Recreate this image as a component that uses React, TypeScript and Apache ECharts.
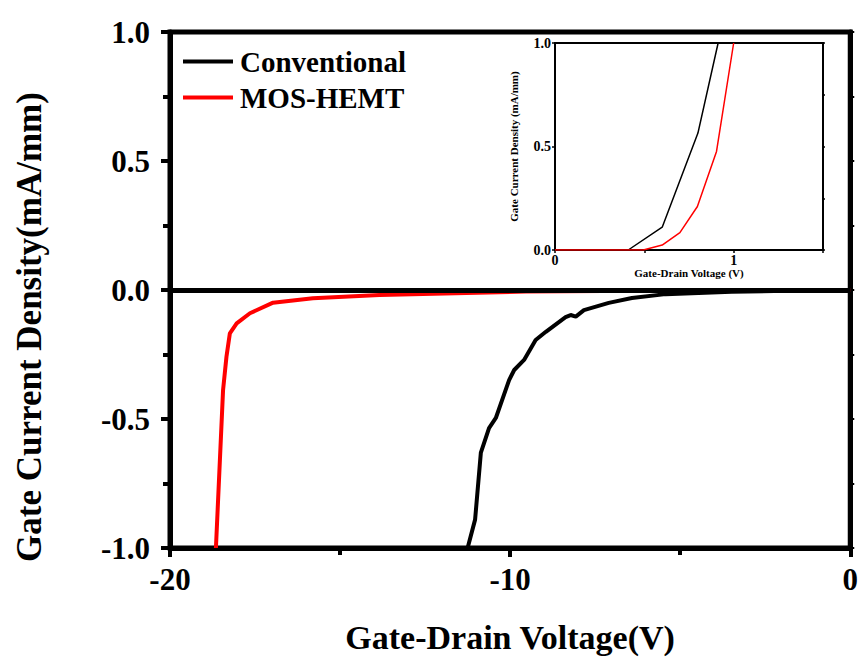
import React, { useEffect, useRef } from "react";
import * as echarts from "echarts";

const convX = [-11.25, -11.03, -10.86, -10.62, -10.42, -10.03, -9.88, -9.59, -9.25, -8.95, -8.37, -8.22, -8.07, -7.83, -7.1, -6.42, -5.43, -3.49, -1.5, 0];
const convY = [-1.0, -0.89, -0.63, -0.535, -0.496, -0.349, -0.31, -0.271, -0.194, -0.162, -0.105, -0.097, -0.103, -0.078, -0.05, -0.031, -0.016, -0.007, -0.002, 0];
const mosX = [-18.65, -18.44, -18.34, -18.24, -18.04, -17.65, -16.97, -15.8, -13.84, -9.53, -5, 0];
const mosY = [-1.0, -0.388, -0.259, -0.168, -0.129, -0.09, -0.049, -0.032, -0.019, -0.006, -0.002, 0];

const insetConvX = [0, 0.41, 0.6, 0.8, 0.913];
const insetConvY = [0, 0, 0.11, 0.565, 1.0];
const insetMosX = [0, 0.494, 0.6, 0.699, 0.797, 0.904, 1.0];
const insetMosY = [0, 0, 0.024, 0.084, 0.21, 0.476, 1.0];

const xTicks = [-20, -10, 0];
const yTicks = [-1.0, -0.5, 0.0, 0.5, 1.0];

const FONT = "Liberation Serif";

function zip(xs: number[], ys: number[]) {
  return xs.map((x, i) => [x, ys[i]]);
}

export default function App() {
  const ref = useRef<HTMLDivElement>(null);
  useEffect(() => {
    document.body.style.margin = "0";
    if (!ref.current) return;
    const chart = echarts.init(ref.current, null, { renderer: "svg" });
    const axisFont = { fontFamily: FONT, fontWeight: "bold" as const, color: "#000" };
    chart.setOption({
      animation: false,
      backgroundColor: "#fff",
      legend: {
        data: ["Conventional", "MOS-HEMT"],
        orient: "vertical",
        left: 178,
        top: 42,
        icon: "rect",
        itemWidth: 50,
        itemHeight: 4,
        itemGap: 7,
        textStyle: { ...axisFont, fontSize: 29, padding: [0, 0, 0, 2] },
      },
      grid: [
        { left: 170, right: 10, top: 32, bottom: 111, show: true, borderColor: "#000", borderWidth: 5 },
        { left: 555, top: 43, width: 268, height: 207, show: true, borderColor: "#000", borderWidth: 2, backgroundColor: "#fff", z: 5 },
      ],
      xAxis: [
        {
          gridIndex: 0,
          type: "value",
          min: -20,
          max: 0,
          interval: 10,
          name: "Gate-Drain Voltage(V)",
          nameLocation: "middle",
          nameGap: 72,
          nameTextStyle: { ...axisFont, fontSize: 34 },
          axisLine: { show: true, onZero: false, lineStyle: { color: "#000", width: 5 } },
          axisTick: { show: true, inside: false, length: 9, lineStyle: { color: "#000", width: 4 } },
          minorTick: { show: true, splitNumber: 2, length: 7, lineStyle: { color: "#000", width: 4 } },
          splitLine: { show: false },
          axisLabel: { ...axisFont, fontSize: 31, margin: 16, formatter: (v: number) => (xTicks.includes(v) ? String(v) : "") },
        },
        {
          gridIndex: 1,
          type: "value",
          min: 0,
          max: 1.5,
          interval: 0.5,
          name: "Gate-Drain Voltage (V)",
          nameLocation: "middle",
          nameGap: 16,
          nameTextStyle: { ...axisFont, fontSize: 11 },
          axisLine: { show: true, onZero: false, lineStyle: { color: "#000", width: 2 } },
          axisTick: { show: true, length: 3, lineStyle: { color: "#000", width: 1.5 } },
          splitLine: { show: false },
          axisLabel: { ...axisFont, fontSize: 14, margin: 3, formatter: (v: number) => (v === 0 || v === 1 ? String(v) : "") },
        },
      ],
      yAxis: [
        {
          gridIndex: 0,
          type: "value",
          min: -1,
          max: 1,
          interval: 0.5,
          name: "Gate Current Density(mA/mm)",
          nameLocation: "middle",
          nameGap: 123,
          nameTextStyle: { ...axisFont, fontSize: 35, padding: [0, 74, 0, 0] },
          axisLine: { show: true, onZero: false, lineStyle: { color: "#000", width: 5 } },
          axisTick: { show: true, inside: false, length: 9, lineStyle: { color: "#000", width: 4 } },
          minorTick: { show: true, splitNumber: 2, length: 7, lineStyle: { color: "#000", width: 4 } },
          splitLine: { show: false },
          axisLabel: { ...axisFont, fontSize: 31, margin: 20, formatter: (v: number) => (yTicks.includes(v) ? v.toFixed(1) : "") },
        },
        {
          gridIndex: 0,
          type: "value",
          position: "right",
          min: -1,
          max: 1,
          interval: 0.25,
          axisLine: { show: true, onZero: false, lineStyle: { color: "#000", width: 5 } },
          axisTick: { show: true, length: 4, lineStyle: { color: "#000", width: 2 } },
          splitLine: { show: false },
          axisLabel: { show: false },
        },
        {
          gridIndex: 1,
          type: "value",
          min: 0,
          max: 1,
          interval: 0.5,
          name: "Gate Current Density (mA/mm)",
          nameLocation: "middle",
          nameGap: 36,
          nameTextStyle: { ...axisFont, fontSize: 11 },
          axisLine: { show: true, onZero: false, lineStyle: { color: "#000", width: 2 } },
          axisTick: { show: true, length: 3, lineStyle: { color: "#000", width: 1.5 } },
          splitLine: { show: false },
          axisLabel: { ...axisFont, fontSize: 14, margin: 4, formatter: (v: number) => v.toFixed(1) },
        },
        {
          gridIndex: 1,
          type: "value",
          position: "right",
          min: 0,
          max: 1,
          interval: 0.25,
          axisLine: { show: true, onZero: false, lineStyle: { color: "#000", width: 2 } },
          axisTick: { show: true, length: 2, lineStyle: { color: "#000", width: 1.5 } },
          splitLine: { show: false },
          axisLabel: { show: false },
        },
      ],
      series: [
        {
          name: "Conventional",
          type: "line",
          xAxisIndex: 0,
          yAxisIndex: 0,
          data: zip(convX, convY),
          showSymbol: false,
          lineStyle: { color: "#000", width: 4 },
          itemStyle: { color: "#000" },
          z: 3,
          markLine: {
            silent: true,
            symbol: "none",
            label: { show: false },
            lineStyle: { color: "#000", width: 5, type: "solid" },
            data: [{ yAxis: 0 }],
          },
        },
        {
          name: "MOS-HEMT",
          type: "line",
          xAxisIndex: 0,
          yAxisIndex: 0,
          data: zip(mosX, mosY),
          showSymbol: false,
          lineStyle: { color: "#ff0000", width: 4 },
          itemStyle: { color: "#ff0000" },
          z: 2,
        },
        {
          name: "Conventional",
          type: "line",
          xAxisIndex: 1,
          yAxisIndex: 2,
          data: zip(insetConvX, insetConvY),
          showSymbol: false,
          lineStyle: { color: "#000", width: 1.5 },
          itemStyle: { color: "#000" },
          z: 6,
        },
        {
          name: "MOS-HEMT",
          type: "line",
          xAxisIndex: 1,
          yAxisIndex: 2,
          data: zip(insetMosX, insetMosY),
          showSymbol: false,
          lineStyle: { color: "#ff0000", width: 1.5 },
          itemStyle: { color: "#ff0000" },
          z: 6,
        },
      ],
    });
    return () => chart.dispose();
  }, []);
  return <div ref={ref} style={{ width: 861, height: 659 }} />;
}
